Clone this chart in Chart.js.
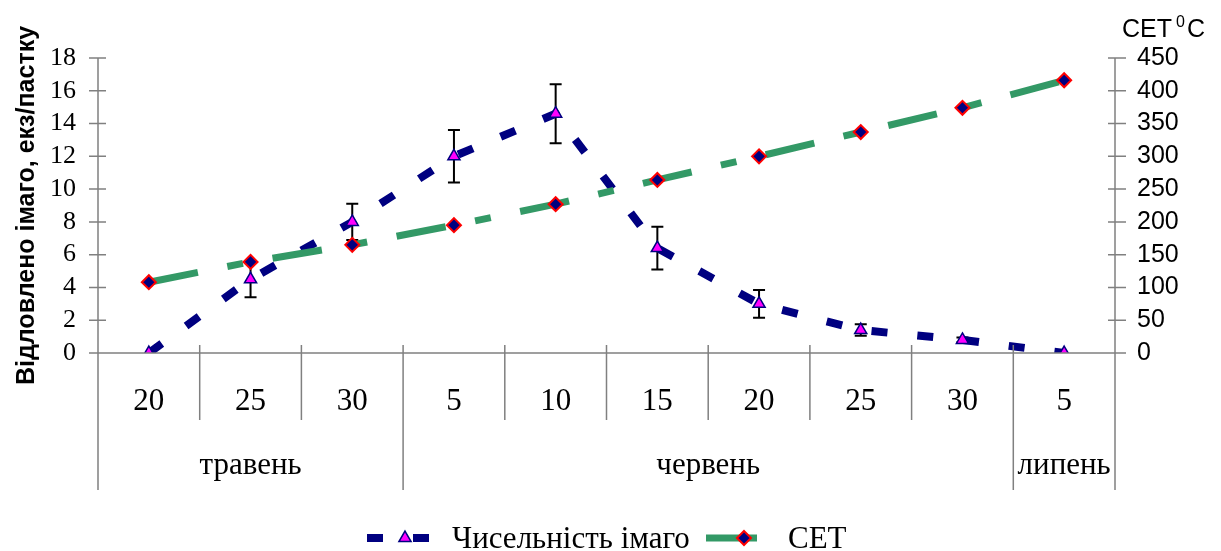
<!DOCTYPE html>
<html lang="uk">
<head>
<meta charset="UTF-8" />
<title>Чисельність імаго та СЕТ</title>
<script src="https://cdn.jsdelivr.net/npm/chart.js"></script>
<style>
  html, body { margin: 0; padding: 0; background: #fff; }
</style>
</head>
<body>
<canvas id="myChart" width="1221" height="551"></canvas>
<script>
// дати обліку (день місяця) та місяці
const days = ["20", "25", "30", "5", "10", "15", "20", "25", "30", "5"];
const monthNames = ["травень", "червень", "липень"];
const monthStart = [0, 3, 9];
const monthEnd = [2, 8, 9];

// відловлено імаго, екз/пастку, та похибка
const imago = [0, 4.5, 8, 12, 14.6, 6.4, 3, 1.4, 0.8, 0];
const imagoErr = [0, 1.1, 1.1, 1.6, 1.8, 1.3, 0.85, 0.35, 0.15, 0];

// сума ефективних температур
const cet = [108, 139, 165, 195, 227, 264, 300, 337, 374, 416];

const NAVY = "#000080";
const GREEN = "#339966";
const AXIS = "#808080";
const SERIF = "'Liberation Serif', 'Times New Roman', serif";
const SANS = "'Liberation Sans', Arial, sans-serif";

function triangle(ctx, x, y, r) {
	ctx.beginPath();
	ctx.moveTo(x, y - r);
	ctx.lineTo(x + r * 0.866, y + r * 0.5);
	ctx.lineTo(x - r * 0.866, y + r * 0.5);
	ctx.closePath();
}
function diamond(ctx, x, y, r) {
	ctx.beginPath();
	ctx.moveTo(x, y - r);
	ctx.lineTo(x + r, y);
	ctx.lineTo(x, y + r);
	ctx.lineTo(x - r, y);
	ctx.closePath();
}

const decor = {
	id: "decor",
	beforeDatasetsDraw(chart) {
		const ctx = chart.ctx;
		const xs = chart.scales.x, ys = chart.scales.y;
		ctx.save();
		ctx.strokeStyle = "#000";
		ctx.lineWidth = 2;
		imago.forEach((v, i) => {
			if (!imagoErr[i]) return;
			const x = xs.getPixelForValue(i);
			const y1 = ys.getPixelForValue(v + imagoErr[i]);
			const y2 = ys.getPixelForValue(v - imagoErr[i]);
			ctx.beginPath();
			ctx.moveTo(x, y1); ctx.lineTo(x, y2);
			ctx.moveTo(x - 6, y1); ctx.lineTo(x + 6, y1);
			ctx.moveTo(x - 6, y2); ctx.lineTo(x + 6, y2);
			ctx.stroke();
		});
		ctx.restore();
	},
	afterDraw(chart) {
		const ctx = chart.ctx;
		const a = chart.chartArea;
		const xs = chart.scales.x, ys = chart.scales.y, yr = chart.scales.y1;
		const step = (a.right - a.left) / days.length;
		ctx.save();
		ctx.strokeStyle = AXIS;
		ctx.lineWidth = 1.5;
		ctx.beginPath();
		// осі
		ctx.moveTo(a.left - 8, a.bottom); ctx.lineTo(a.right + 10, a.bottom);
		ys.ticks.forEach(t => {
			const y = ys.getPixelForValue(t.value);
			ctx.moveTo(a.left - 9, y); ctx.lineTo(a.left + 8, y);
		});
		yr.ticks.forEach(t => {
			const y = yr.getPixelForValue(t.value);
			ctx.moveTo(a.right - 7, y); ctx.lineTo(a.right + 11, y);
		});
		ctx.moveTo(a.left, a.top); ctx.lineTo(a.left, 490);
		ctx.moveTo(a.right, a.top); ctx.lineTo(a.right, 490);
		for (let i = 1; i < days.length; i++) {
			const x = a.left + i * step;
			const long = monthStart.includes(i);
			ctx.moveTo(x, a.bottom - 8);
			ctx.lineTo(x, long ? 490 : 420);
		}
		ctx.stroke();

		// місяці
		ctx.fillStyle = "#000";
		ctx.font = "31px " + SERIF;
		ctx.textAlign = "center";
		ctx.textBaseline = "alphabetic";
		monthNames.forEach((m, k) => {
			const x = (xs.getPixelForValue(monthStart[k]) + xs.getPixelForValue(monthEnd[k])) / 2;
			ctx.fillText(m, x, 474);
		});

		// підпис правої осі
		ctx.textAlign = "left";
		ctx.font = "25px " + SANS;
		ctx.fillText("СЕТ", 1122, 37);
		ctx.font = "16px " + SANS;
		ctx.fillText("0", 1176, 27);
		ctx.font = "25px " + SANS;
		ctx.fillText("С", 1187, 37);

		// легенда
		const ly = 538;
		ctx.strokeStyle = NAVY;
		ctx.lineWidth = 8;
		ctx.setLineDash([16, 30]);
		ctx.beginPath();
		ctx.moveTo(367, ly); ctx.lineTo(429, ly);
		ctx.stroke();
		ctx.setLineDash([]);
		triangle(ctx, 405, ly, 7);
		ctx.fillStyle = "#FF00FF";
		ctx.fill();
		ctx.lineWidth = 1.5;
		ctx.stroke();

		ctx.strokeStyle = GREEN;
		ctx.lineWidth = 7;
		ctx.beginPath();
		ctx.moveTo(706, ly); ctx.lineTo(757, ly);
		ctx.stroke();
		diamond(ctx, 744, ly, 7);
		ctx.fillStyle = NAVY;
		ctx.fill();
		ctx.strokeStyle = "#FF0000";
		ctx.lineWidth = 2;
		ctx.stroke();

		ctx.fillStyle = "#000";
		ctx.font = "31px " + SERIF;
		ctx.fillText("Чисельність імаго", 452, 548);
		ctx.fillText("СЕТ", 788, 548);
		ctx.restore();
	}
};

const ctx = document.getElementById("myChart");
const myChart = new Chart(ctx, {
	type: "line",
	data: {
		labels: days,
		datasets: [
			{
				label: "Чисельність імаго",
				data: imago,
				yAxisID: "y",
				order: 2,
				borderColor: NAVY,
				borderWidth: 8,
				borderDash: [16, 30],
				borderCapStyle: "butt",
				tension: 0,
				pointStyle: "triangle",
				pointRadius: 7,
				pointBackgroundColor: "#FF00FF",
				pointBorderColor: NAVY,
				pointBorderWidth: 1.5,
			},
			{
				label: "СЕТ",
				data: cet,
				yAxisID: "y1",
				order: 1,
				borderColor: GREEN,
				borderWidth: 7,
				borderDash: [50, 30, 16, 30],
				borderCapStyle: "butt",
				tension: 0,
				pointStyle: "rectRot",
				pointRadius: 7,
				pointBackgroundColor: NAVY,
				pointBorderColor: "#FF0000",
				pointBorderWidth: 2,
			},
		],
	},
	options: {
		responsive: false,
		animation: false,
		devicePixelRatio: 1,
		layout: { padding: { top: 58, left: 0, right: 0, bottom: 0 } },
		plugins: {
			legend: { display: false },
			tooltip: { enabled: false },
		},
		scales: {
			x: {
				offset: true,
				grid: { display: false },
				border: { display: false },
				ticks: {
					color: "#000",
					font: { family: SERIF, size: 31 },
					padding: 22,
					maxRotation: 0,
					autoSkip: false,
				},
				afterFit(scale) { scale.height = 198; },
			},
			y: {
				position: "left",
				min: 0,
				max: 18,
				grid: { display: false },
				border: { display: false },
				ticks: {
					stepSize: 2,
					autoSkip: false,
					color: "#000",
					font: { family: SERIF, size: 26 },
					padding: 14,
				},
				title: {
					display: true,
					text: "Відловлено імаго, екз/пастку",
					color: "#000",
					font: { family: SANS, size: 25, weight: "bold" },
					padding: { top: 12, bottom: 0 },
				},
				afterFit(scale) { scale.width = 98; },
			},
			y1: {
				position: "right",
				min: 0,
				max: 450,
				grid: { display: false },
				border: { display: false },
				ticks: {
					stepSize: 50,
					autoSkip: false,
					color: "#000",
					font: { family: SANS, size: 25 },
					padding: 14,
				},
				afterFit(scale) { scale.width = 106; },
			},
		},
	},
	plugins: [decor],
});
</script>
</body>
</html>
